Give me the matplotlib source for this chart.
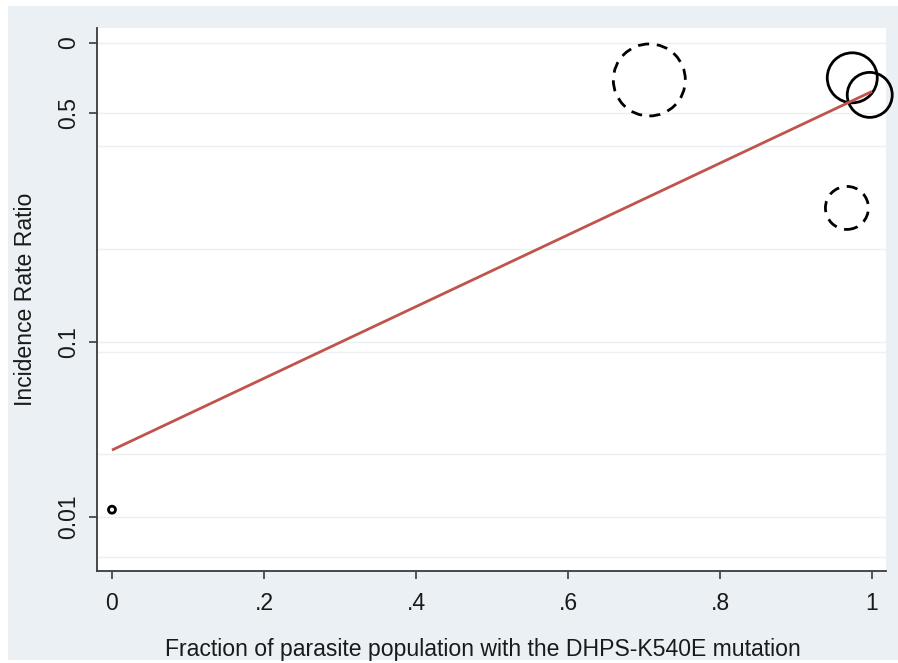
import matplotlib
matplotlib.use("Agg")
import matplotlib.pyplot as plt
from matplotlib.patches import Rectangle

plt.rcParams['font.family'] = ['Liberation Sans', 'DejaVu Sans']

# Data (y positions on the log-scale axis)
solid_x = [0.974, 0.997, 0.0]
solid_y = [3.23, 2.58, 0.011]
solid_w = [50, 45, 7]          # bubble diameter weights (px)

dashed_x = [0.707, 0.967]
dashed_y = [3.14, 0.583]
dashed_w = [72, 43]

fit_x = [0.0, 1.0]
fit_y = [0.0241, 2.70]

ytick_pos = [5.12, 2.04, 0.1, 0.01]
ytick_labels = ['0', '0.5', '0.1', '0.01']
ygrid_extra = [1.318, 0.34, 0.0877, 0.0229, 0.0059]
xticks = [0, 0.2, 0.4, 0.6, 0.8, 1.0]
xtick_labels = ['0', '.2', '.4', '.6', '.8', '1']

W, H = 898, 663
fig = plt.figure(figsize=(W / 100, H / 100), dpi=100)
fig.patch.set_facecolor('white')
bg = Rectangle((8 / W, 3 / H), 1 - 8 / W, 1 - 9 / H, transform=fig.transFigure,
               facecolor='#EAF0F3', edgecolor='none', zorder=-10)
fig.patches.append(bg)

ax = fig.add_axes([97 / W, (H - 571) / H, (886 - 97) / W, (571 - 28) / H])
ax.set_zorder(5)
ax.set_facecolor('white')
ax.set_yscale('log')
ax.set_xlim(-0.0197, 1.0184)
ax.set_ylim(0.00491, 6.22)

gridc = '#EAF0F3'
for g in ytick_pos + ygrid_extra:
    ax.axhline(g, color=gridc, lw=1.0, zorder=0)

def px2pt(d):
    return (d * 0.72) ** 2

ax.scatter(dashed_x, dashed_y, s=[px2pt(d) for d in dashed_w], facecolors='none',
           edgecolors='black', linewidths=2.0, linestyles=(0, (4, 2.8)), zorder=3,
           clip_on=False)
ax.scatter(solid_x, solid_y, s=[px2pt(d) for d in solid_w], facecolors='none',
           edgecolors='black', linewidths=2.0, zorder=3, clip_on=False)
ax.plot(fit_x, fit_y, color='#C0544C', lw=2.0, zorder=4, solid_capstyle='butt')

for s in ['top', 'right']:
    ax.spines[s].set_visible(False)
for s in ['left', 'bottom']:
    ax.spines[s].set_color('#3a3a3a')
    ax.spines[s].set_linewidth(1.3)

ax.set_yticks(ytick_pos)
ax.set_yticklabels(ytick_labels, rotation=90, va='center')
ax.yaxis.set_minor_locator(matplotlib.ticker.NullLocator())
ax.set_xticks(xticks)
ax.set_xticklabels(xtick_labels)
ax.tick_params(axis='both', direction='out', length=6, width=1.2, color='#3a3a3a',
               labelsize=16.6, labelcolor='#1a1a1a')
ax.tick_params(axis='y', pad=6)
ax.tick_params(axis='x', pad=9)

ax.set_ylabel('Incidence Rate Ratio', fontsize=16.6, color='#1a1a1a', labelpad=15)
ax.set_xlabel('Fraction of parasite population with the DHPS-K540E mutation', fontsize=16.6,
              color='#1a1a1a')
ax.xaxis.set_label_coords(0.489, -0.123)

fig.savefig('out.png', dpi=100, facecolor='white')
